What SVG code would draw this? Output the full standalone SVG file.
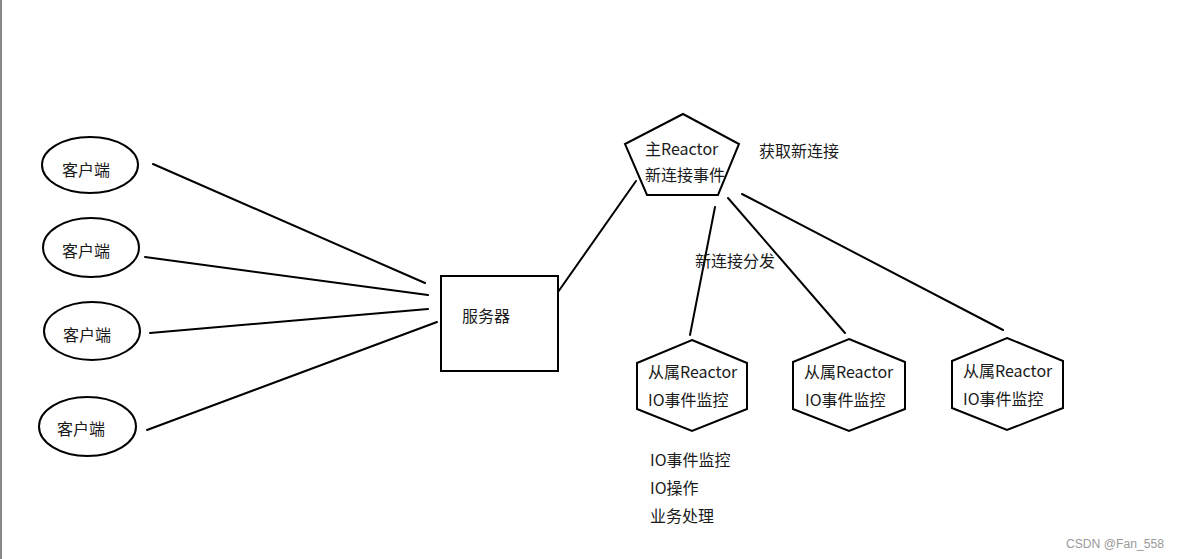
<svg xmlns="http://www.w3.org/2000/svg" width="1180" height="559" viewBox="0 0 1180 559">
<style>
.s{fill:#fff;stroke:#000;stroke-width:2}
.t{font-family:"Noto Sans CJK SC","Noto Sans",sans-serif;font-size:16px;fill:#1a1a1a}
.c line{stroke:#000;stroke-width:2;stroke-linecap:round}
</style>
<rect x="0" y="0" width="1180" height="559" fill="#fff"/>
<rect x="0" y="0" width="2" height="559" fill="#888"/>
<g class="c" id="connectors">
<line x1="153" y1="164" x2="425" y2="283"/>
<line x1="145" y1="257" x2="428" y2="295"/>
<line x1="150" y1="333" x2="428" y2="309"/>
<line x1="147" y1="430" x2="437" y2="322"/>
<line x1="558" y1="292" x2="636" y2="181"/>
<line x1="715" y1="207" x2="690" y2="335"/>
<line x1="728" y1="198" x2="845" y2="333"/>
<line x1="742" y1="194" x2="1003" y2="330"/>
</g>
<g id="client1"><ellipse class="s" cx="90" cy="165" rx="48" ry="28"/><text class="t" x="62" y="176">客户端</text></g>
<g id="client2"><ellipse class="s" cx="91" cy="247.5" rx="48" ry="29.5"/><text class="t" x="62" y="257">客户端</text></g>
<g id="client3"><ellipse class="s" cx="92" cy="331" rx="48" ry="29"/><text class="t" x="63" y="341">客户端</text></g>
<g id="client4"><ellipse class="s" cx="87.5" cy="426.5" rx="48.5" ry="29.5"/><text class="t" x="57" y="435">客户端</text></g>
<g id="server"><rect class="s" x="441" y="276" width="117" height="95"/><text class="t" x="462" y="322">服务器</text></g>
<g id="mainReactor"><polygon class="s" points="683,114 739,144 718,195 647,195 625,144"/><text class="t" x="645" y="155">主Reactor</text><text class="t" x="645" y="181">新连接事件</text></g>
<g id="label-get"><text class="t" x="759" y="157">获取新连接</text></g>
<g id="label-dispatch"><text class="t" x="695" y="267">新连接分发</text></g>
<g id="sub1"><polygon class="s" points="692,340 747,363 747,409 692,431 637,409 637,363"/><text class="t" x="648" y="378">从属Reactor</text><text class="t" x="648" y="406">IO事件监控</text></g>
<g id="sub2"><polygon class="s" points="849,339 905,362 905,409 849,431 793,409 793,362"/><text class="t" x="804" y="378">从属Reactor</text><text class="t" x="805" y="406">IO事件监控</text></g>
<g id="sub3"><polygon class="s" points="1007,338 1063,361 1063,408 1007,430 952,408 952,361"/><text class="t" x="963" y="377">从属Reactor</text><text class="t" x="963" y="405">IO事件监控</text></g>
<g id="notes"><text class="t" x="650" y="466">IO事件监控</text><text class="t" x="650" y="494">IO操作</text><text class="t" x="650" y="522">业务处理</text></g>
<text x="1066" y="548" style="font-family:'Liberation Sans',sans-serif;font-size:12.5px;fill:#9a9a9a" textLength="98" lengthAdjust="spacingAndGlyphs">CSDN @Fan_558</text>
</svg>
